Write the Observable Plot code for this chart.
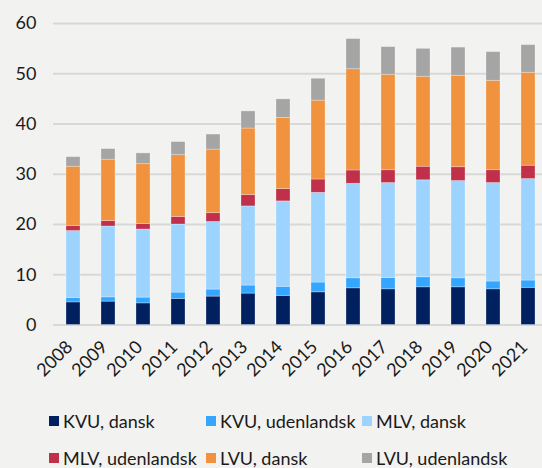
<!DOCTYPE html>
<html><head><meta charset="utf-8">
<script src="https://cdn.jsdelivr.net/npm/d3@7"></script>
<script src="https://cdn.jsdelivr.net/npm/@observablehq/plot@0.6"></script>
<style>
html,body{margin:0;padding:0;background:#f2f2f0;}
#chart{position:relative;width:542px;height:468px;background:#f2f2f0;font-family:Lato,sans-serif;overflow:hidden;}
#chart svg{position:absolute;left:0;top:0;}
.item{position:absolute;display:flex;align-items:center;font-size:18px;color:#1a1a1a;white-space:nowrap;line-height:1;}
.sw{width:10px;height:10px;margin-right:4px;flex:none;}
</style></head><body><div id="chart"></div><script>
const years = ["2008","2009","2010","2011","2012","2013","2014","2015","2016","2017","2018","2019","2020","2021"];
const series = ["KVU, dansk","KVU, udenlandsk","MLV, dansk","MLV, udenlandsk","LVU, dansk","LVU, udenlandsk"];
const colors = ["#002060","#35a6ff","#9dd3ff","#c0304a","#f0923e","#a5a5a5"];
const kvuDansk   = [4.5, 4.65, 4.3, 5.2, 5.65, 6.25, 5.8, 6.5, 7.3, 7.1, 7.5, 7.5, 7.1, 7.4];
const kvuUdl     = [0.9, 0.85, 1.15, 1.25, 1.4, 1.6, 1.8, 1.95, 2.0, 2.25, 2.0, 1.8, 1.55, 1.45];
const mlvDansk   = [13.3, 14.1, 13.55, 13.55, 13.45, 15.75, 17.0, 17.85, 18.8, 18.9, 19.3, 19.35, 19.6, 20.2];
const mlvUdl     = [1.0, 1.1, 1.1, 1.5, 1.75, 2.25, 2.45, 2.65, 2.65, 2.55, 2.7, 2.75, 2.55, 2.65];
const lvuDansk   = [11.8, 12.2, 11.9, 12.3, 12.65, 13.25, 14.15, 15.7, 20.15, 19.0, 17.9, 18.2, 17.8, 18.5];
const lvuUdl     = [1.9, 2.1, 2.15, 2.6, 3.0, 3.4, 3.7, 4.35, 6.0, 5.5, 5.55, 5.6, 5.7, 5.5];
const yTicks = [0,10,20,30,40,50,60];

const values = [kvuDansk, kvuUdl, mlvDansk, mlvUdl, lvuDansk, lvuUdl];
const data = [];
years.forEach((yr,i) => series.forEach((s,j) => data.push({year: yr, series: s, value: values[j][i]})));

const plot = Plot.plot({
  width: 542, height: 395,
  marginLeft: 53, marginRight: 0, marginTop: 23, marginBottom: 70.5,
  style: {background: "transparent", fontFamily: "Lato, sans-serif", fontSize: "18px", color: "#1a1a1a", overflow: "visible"},
  x: {domain: years, range: [52.7, 549], paddingInner: 0.6, paddingOuter: 0.296, label: null},
  y: {domain: [0, 60], label: null},
  color: {domain: series, range: colors},
  marks: [
    Plot.gridY(yTicks, {stroke: "#d8d8d6", strokeOpacity: 1, strokeWidth: 2}),
    Plot.barY(data, {x: "year", y: "value", fill: "series", order: series, stroke: "#ffffff", strokeOpacity: 0.35, strokeWidth: 0.8}),
    Plot.axisY(yTicks, {tickSize: 0, tickPadding: 17, label: null, fontSize: 18}),
    Plot.axisX({tickSize: 0, tickPadding: 6, dy: 13, dx: -4, tickRotate: -45, label: null, fontSize: 18})
  ]
});
const chart = document.getElementById("chart");
chart.appendChild(plot);

const legendPos = [[49,421],[206,421],[362,421],[49,458],[206,458],[362,458]];
series.forEach((s,i) => {
  const d = document.createElement("div");
  d.className = "item";
  d.style.left = legendPos[i][0] + "px";
  d.style.top = (legendPos[i][1] - 10) + "px";
  d.style.height = "20px";
  const sw = document.createElement("span");
  sw.className = "sw"; sw.style.background = colors[i];
  const t = document.createElement("span");
  t.textContent = s;
  d.appendChild(sw); d.appendChild(t);
  chart.appendChild(d);
});
</script></body></html>
